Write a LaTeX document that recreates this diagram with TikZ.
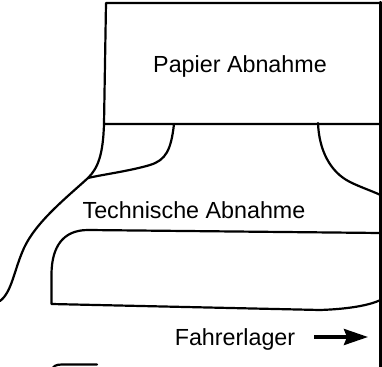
\documentclass[tikz,border=0pt]{standalone}
\usepackage{fontspec}
\setmainfont{Liberation Sans}
\usetikzlibrary{arrows.meta}
\tikzset{
  wall/.style={draw=black, line width=2.2pt, line join=round, line cap=round},
  label/.style={inner sep=0pt, anchor=base, font=\fontsize{23.3}{27}\selectfont},
  pointer/.style={draw=black, line width=3.5pt, -{Stealth[length=24pt,width=16pt,inset=3pt]}}
}
\begin{document}
\begin{tikzpicture}[x=1pt, y=-1pt]
\clip (0,0) rectangle (382,366);
\fill[white] (0,0) rectangle (382,366);
% Papier box
\draw[wall] (380.5,3) -- (106,3) -- (104,124) -- (380.5,124);
% right wall
\draw[wall] (380.5,2) -- (380.5,368);
% left outer curve
\draw[wall] (104,124) .. controls (103,155) and (98,168) .. (88,178)
  .. controls (66,198) and (36,222) .. (24,248)
  .. controls (14,270) and (12,292) .. (0,301);
% inner curve
\draw[wall] (174,124) .. controls (171,150) and (166,160) .. (150,165)
  .. controls (130,171) and (100,175) .. (88,178);
% right curve
\draw[wall] (318,123) .. controls (319,150) and (330,172) .. (350,182)
  .. controls (360,187) and (372,191) .. (380.5,195);
% Technische box
\draw[wall] (380.5,233) -- (88,230) .. controls (62,230) and (52,248) .. (51.5,273)
  -- (51.5,304) -- (320,310) .. controls (350,309) and (370,305) .. (380.5,300);
% bottom partial shape
\draw[wall] (97,364.5) -- (62,364.5) .. controls (56,364.5) and (53,366) .. (52,370);
% texts
\node[label] (papier) at (240,73) {Papier Abnahme};
\node[label] (technik) at (194,218) {Technische Abnahme};
\node[label] (fahrer) at (235,345) {Fahrerlager};
\coordinate (arrowstart) at (314,337);
\coordinate (arrowend) at (368,337);
\draw[pointer] (arrowstart) -- (arrowend);
\end{tikzpicture}
\end{document}
